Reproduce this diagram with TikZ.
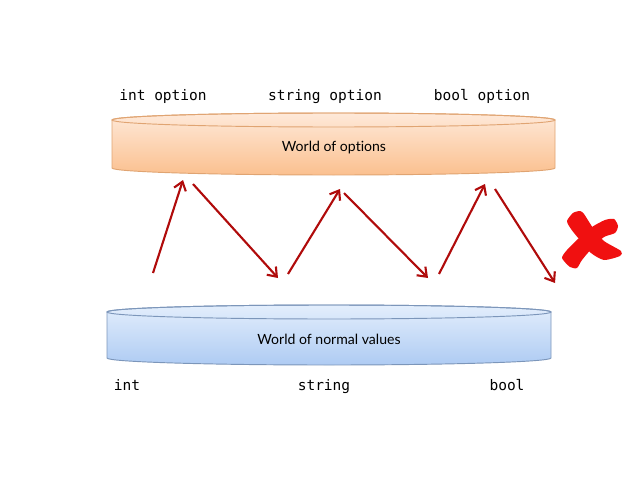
\documentclass[tikz,border=0pt]{standalone}
\usepackage{fontspec}
\usepackage{xcolor}
\usepackage{tikz}
\usetikzlibrary{arrows.meta}
\newfontfamily\gillfont[Ligatures={NoCommon,NoRequired,NoContextual}]{Lato}
\newfontfamily\codefont{DejaVu Sans Mono}

\definecolor{optTop}{HTML}{FEE9D9}
\definecolor{optBot}{HTML}{FBC08F}
\definecolor{optLine}{HTML}{E0A472}
\definecolor{valTop}{HTML}{E3EEFC}
\definecolor{valBot}{HTML}{AECBF3}
\definecolor{valLine}{HTML}{7C96BA}
\definecolor{arrowred}{HTML}{B00B0B}
\definecolor{crossred}{HTML}{F01010}

\begin{document}
\begin{tikzpicture}[x=0.03cm, y=-0.03cm, >={Straight Barb[length=7pt, width=10.5pt]},
  codetext/.style={font=\codefont\fontsize{12.4}{14}\selectfont, inner sep=0pt, anchor=base},
  worldtext/.style={font=\gillfont\fontsize{12}{14}\selectfont, inner sep=0pt},
  hop/.style={->, draw=arrowred, line width=1.8pt}]
  \useasboundingbox (0,0) rectangle (638,479);
  % World of options (cylinder)
  \shade[top color=optTop, bottom color=optBot, draw=optLine, line width=0.8pt]
    (112,120) -- (112,168) arc[start angle=180, end angle=0, x radius=221.5, y radius=7]
    -- (555,120) arc[start angle=0, end angle=-180, x radius=221.5, y radius=7] -- cycle;
  \draw[optLine, line width=0.8pt] (333.5,120) ellipse [x radius=221.5, y radius=7];
  \node[worldtext] (opts) at (334,148) {World of options};
  % World of normal values (cylinder)
  \shade[top color=valTop, bottom color=valBot, draw=valLine, line width=0.8pt]
    (107,312) -- (107,358) arc[start angle=180, end angle=0, x radius=222, y radius=7]
    -- (551,312) arc[start angle=0, end angle=-180, x radius=222, y radius=7] -- cycle;
  \draw[valLine, line width=0.8pt] (329,312) ellipse [x radius=222, y radius=7];
  \node[worldtext] (vals) at (329,339) {World of normal values};
  % Type labels
  \node[codetext] (intopt) at (163,101) {int option};
  \node[codetext] (stropt) at (325,101) {string option};
  \node[codetext] (boolopt) at (482,101) {bool option};
  \node[codetext] (intval) at (127,390) {int};
  \node[codetext] (strval) at (324,390) {string};
  \node[codetext] (boolval) at (507,390) {bool};
  % Arrow ends
  \coordinate (up1s) at (153,273);  \coordinate (up1e) at (183,180);
  \coordinate (dn1s) at (193,184);  \coordinate (dn1e) at (278,278);
  \coordinate (up2s) at (288,274);  \coordinate (up2e) at (340,189);
  \coordinate (dn2s) at (344,193);  \coordinate (dn2e) at (428,278);
  \coordinate (up3s) at (439,274);  \coordinate (up3e) at (485,184);
  \coordinate (dn3s) at (495,189);  \coordinate (dn3e) at (555,283);
  % Zig-zag arrows
  \draw[hop] (up1s) -- (up1e);
  \draw[hop] (dn1s) -- (dn1e);
  \draw[hop] (up2s) -- (up2e);
  \draw[hop] (dn2s) -- (dn2e);
  \draw[hop] (up3s) -- (up3e);
  \draw[hop] (dn3s) -- (dn3e);
  % Red cross
  \fill[crossred] plot[smooth cycle, tension=0.4] coordinates
    {(567,221) (573,213) (580,211) (584,214) (593,228) (604,241) (621,251) (620,256)
     (604,260) (591,253) (579,239) (571,229)};
  \fill[crossred] plot[smooth cycle, tension=0.4] coordinates
    {(614,219) (618,226) (615,233) (604,237) (593,247) (582,260) (577,268)
     (570,267) (562,258) (567,250) (578,239) (592,227) (605,220)};
\end{tikzpicture}
\end{document}
